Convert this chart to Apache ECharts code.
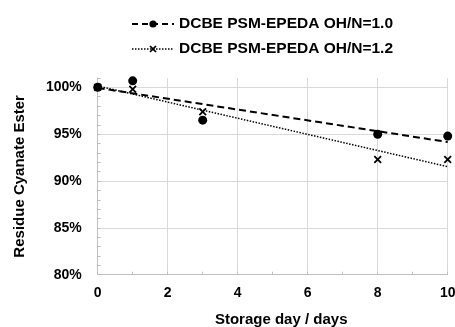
<!DOCTYPE html>
<html>
<head>
<meta charset="utf-8">
<script src="https://cdn.jsdelivr.net/npm/echarts@6/dist/echarts.min.js"></script>
<style>html,body{margin:0;padding:0;background:#fff}#c{width:455px;height:327px}</style>
</head>
<body>
<div id="c"></div>
<script>
// ---- data ----
const days = [0, 1, 3, 8, 10];
const series10 = [100.0, 100.7, 96.5, 95.0, 94.8];   // OH/N=1.0
const series12 = [100.0, 99.8, 97.4, 92.3, 92.3];    // OH/N=1.2
const seriesNames = ['DCBE PSM-EPEDA OH/N=1.0', 'DCBE PSM-EPEDA OH/N=1.2'];
const xTickValues = [0, 2, 4, 6, 8, 10];
const yTickValues = [80, 85, 90, 95, 100];
const xTitle = 'Storage day / days';
const yTitle = 'Residue Cyanate Ester';

// linear least-squares trend line over the axis range
function trend(xs, ys, x0, x1) {
  const n = xs.length;
  const mx = xs.reduce((a, b) => a + b, 0) / n;
  const my = ys.reduce((a, b) => a + b, 0) / n;
  let sxy = 0, sxx = 0;
  for (let i = 0; i < n; i++) { sxy += (xs[i] - mx) * (ys[i] - my); sxx += (xs[i] - mx) ** 2; }
  const b = sxy / sxx, a = my - b * mx;
  return [[x0, a + b * x0], [x1, a + b * x1]];
}

const FONT = "'Liberation Sans', Arial, sans-serif";
const GRID = '#d9d9d9';
const NONE = 'rgba(0,0,0,0)';
const crossPath = 'path://M0,1.6L1.6,0L5,3.4L8.4,0L10,1.6L6.6,5L10,8.4L8.4,10L5,6.6L1.6,10L0,8.4L3.4,5Z';
const xMin = 0, xMax = 10, yMin = 80, yMax = 101;

const chart = echarts.init(document.getElementById('c'), null, {renderer: 'canvas'});
chart.setOption({
  animation: false,
  backgroundColor: '#fff',
  textStyle: {fontFamily: FONT},
  legend: {
    orient: 'vertical', left: 131, top: 16, padding: 0,
    itemWidth: 42, itemHeight: 9, itemGap: 9,
    textStyle: {fontSize: 15.5, fontWeight: 'bold', color: '#000', fontFamily: FONT},
    data: [
      {name: seriesNames[0], lineStyle: {opacity: 1, type: [6, 4], width: 2, color: '#000'}},
      {name: seriesNames[1], lineStyle: {opacity: 1, type: [1.5, 1.5], width: 1.5, color: '#000'}}
    ]
  },
  grid: {left: 97.7, right: 7.3, top: 78, bottom: 52.3, containLabel: false, outerBoundsMode: 'none'},
  xAxis: {
    type: 'value', min: xMin, max: xMax, interval: 1,
    name: xTitle, nameLocation: 'middle', nameGap: 38,
    nameTextStyle: {fontSize: 15, fontWeight: 'bold', color: '#000', fontFamily: FONT, padding: [0, 0, 0, 17]},
    axisLine: {show: true, lineStyle: {color: '#bfbfbf', width: 1}},
    axisTick: {show: true, inside: true, length: 3, lineStyle: {color: '#bfbfbf'}},
    axisLabel: {
      margin: 11, fontSize: 14, fontWeight: 'bold', color: '#000', fontFamily: FONT,
      formatter: v => xTickValues.indexOf(v) >= 0 ? String(v) : ''
    },
    // gridline only on labelled ticks (every 2nd tick)
    splitLine: {show: true, lineStyle: {color: [GRID, NONE], width: 1, type: 'solid'}}
  },
  yAxis: {
    type: 'value', min: yMin, max: yMax, interval: 1,
    name: yTitle, nameLocation: 'middle', nameGap: 70, nameRotate: 90,
    nameTextStyle: {fontSize: 15, fontWeight: 'bold', color: '#000', fontFamily: FONT},
    axisLine: {show: true, lineStyle: {color: '#bfbfbf', width: 1}},
    axisTick: {show: true, inside: true, length: 3, lineStyle: {color: '#bfbfbf'}},
    axisLabel: {
      margin: 16, fontSize: 14, fontWeight: 'bold', color: '#000', fontFamily: FONT,
      formatter: v => yTickValues.indexOf(v) >= 0 ? v + '%' : ''
    },
    // gridline only on labelled ticks (every 5th tick)
    splitLine: {show: true, lineStyle: {color: [GRID, NONE, NONE, NONE, NONE], width: 1, type: 'solid'}}
  },
  series: [
    {
      name: seriesNames[0], type: 'line',
      data: days.map((d, i) => [d, series10[i]]),
      symbol: 'circle', symbolSize: 9,
      itemStyle: {color: '#000'},
      lineStyle: {opacity: 0, width: 2, type: [6, 4], color: '#000'},
      z: 5
    },
    {
      name: seriesNames[1], type: 'line',
      data: days.map((d, i) => [d, series12[i]]),
      symbol: crossPath, symbolSize: 8,
      itemStyle: {color: '#000'},
      lineStyle: {opacity: 0, width: 1.5, type: [1.5, 1.5], color: '#000'},
      z: 5
    },
    {
      name: 'trend1', type: 'line',
      data: trend(days, series10, xMin, xMax), symbol: 'none',
      lineStyle: {color: '#000', width: 2, type: [7, 4]}, z: 3
    },
    {
      name: 'trend2', type: 'line',
      data: trend(days, series12, xMin, xMax), symbol: 'none',
      lineStyle: {color: '#000', width: 1.5, type: [1.5, 1.5]}, z: 3
    }
  ]
});
</script>
</body>
</html>
